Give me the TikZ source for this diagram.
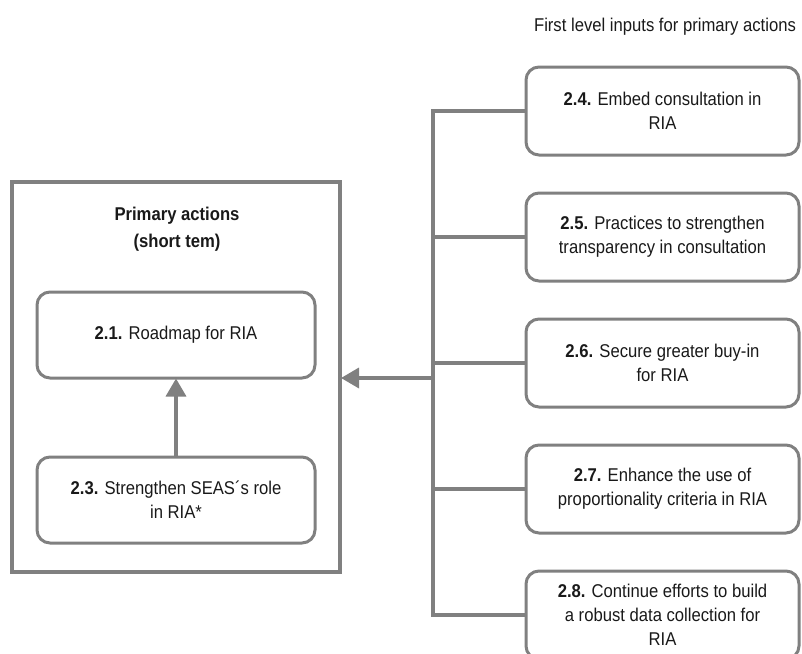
\documentclass[tikz,border=0pt]{standalone}
\usepackage{fontspec}
\setmainfont{Liberation Sans}[FakeStretch=0.9]
\usetikzlibrary{arrows.meta}

\definecolor{linegray}{RGB}{128,128,128}
\definecolor{textgray}{RGB}{25,25,25}

\tikzset{
  every node/.style={text=textgray, font=\fontsize{18.5}{24}\selectfont},
  inputbox/.style={draw=linegray, line width=3pt, rounded corners=13pt,
    minimum width=273pt, minimum height=88pt, align=center, inner sep=0pt},
  actionbox/.style={draw=linegray, line width=3pt, rounded corners=13pt,
    minimum width=278pt, minimum height=86pt, align=center, inner sep=0pt},
  groupbox/.style={draw=linegray, line width=4pt,
    minimum width=328pt, minimum height=390pt, inner sep=0pt},
  conn/.style={draw=linegray, line width=3.5pt},
  arr/.style={conn, -{Triangle[length=18pt, width=20pt]}, shorten >=-1pt},
}

\begin{document}
\begin{tikzpicture}[x=1pt, y=-1pt]
  \useasboundingbox (0,0) rectangle (802,653);
  \clip (0,0) rectangle (802,653);

  \node (head) at (665, 27) {First level inputs for primary actions};

  % primary actions
  \node[groupbox] (group) at (176, 377) {};
  \node[align=center, font=\fontsize{18.5}{27}\selectfont\bfseries] (title) at (177, 229)
    {Primary actions\\(short tem)};
  \node[actionbox] (a21) at (176, 335) {\textbf{2.1.} Roadmap for RIA};
  \node[actionbox] (a23) at (176, 500) {\textbf{2.3.} Strengthen SEAS´s role\\in RIA*};

  % first level inputs
  \node[inputbox] (b24) at (662.5, 111) {\textbf{2.4.} Embed consultation in\\RIA};
  \node[inputbox] (b25) at (662.5, 237) {\textbf{2.5.} Practices to strengthen\\transparency in consultation};
  \node[inputbox] (b26) at (662.5, 363) {\textbf{2.6.} Secure greater buy-in\\for RIA};
  \node[inputbox] (b27) at (662.5, 489) {\textbf{2.7.} Enhance the use of\\proportionality criteria in RIA};
  \node[inputbox] (b28) at (662.5, 615) {\textbf{2.8.} Continue efforts to build\\a robust data collection for\\RIA};

  \coordinate (bus) at (433, 378);

  \draw[conn, line cap=rect] (b24.west -| bus) -- (b28.west -| bus);
  \foreach \b in {b24, b25, b26, b27, b28}
    \draw[conn] (\b.west) -- (\b.west -| bus);

  \draw[arr] (bus) -- (group.east |- bus);
  \draw[arr] (a23.north) -- (a21.south);
\end{tikzpicture}
\end{document}
